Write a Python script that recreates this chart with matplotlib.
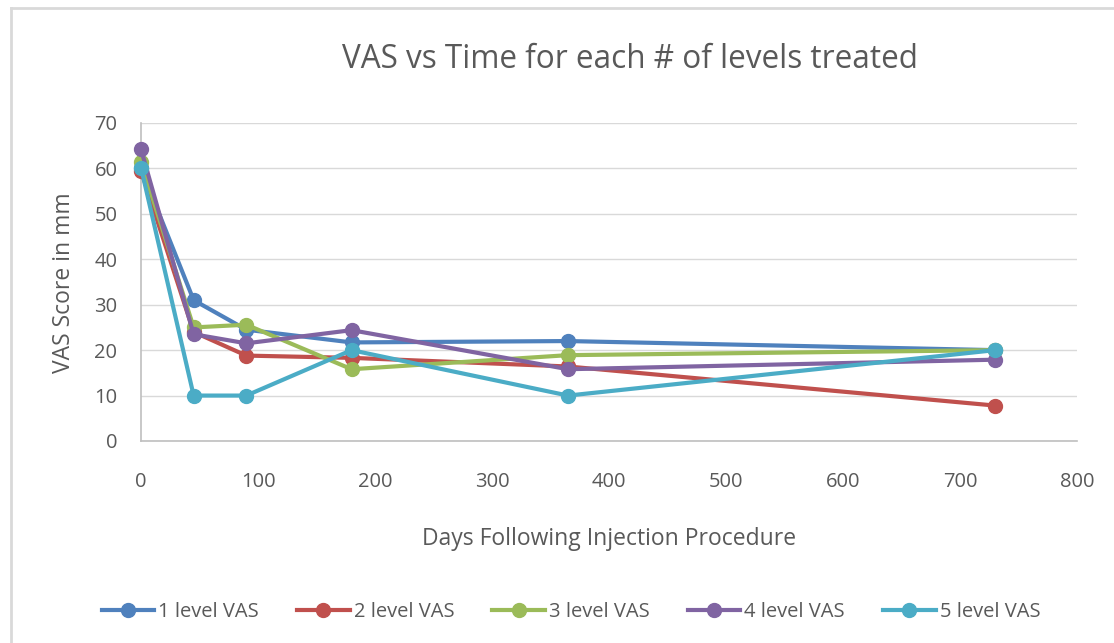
import matplotlib
matplotlib.use("Agg")
import matplotlib.pyplot as plt
from matplotlib.lines import Line2D

# days after injection
days = [0, 45, 90, 180, 365, 730]

# VAS scores per number of levels treated
level1 = [60, 31, 24.5, 21.7, 22, 20]
level2 = [59.5, 24, 18.8, 18.3, 16.4, 7.8]
level3 = [61.5, 25, 25.6, 15.8, 18.9, 20]
level4 = [64.2, 23.5, 21.5, 24.4, 15.8, 17.9]
level5 = [60.2, 10, 10, 20, 10, 20]

series = [level1, level2, level3, level4, level5]
labels = ["1 level VAS", "2 level VAS", "3 level VAS", "4 level VAS", "5 level VAS"]
colors = ["#4F81BD", "#C0504D", "#9BBB59", "#8064A2", "#4BACC6"]

plt.rcParams['font.family'] = ['Open Sans', 'DejaVu Sans']
txt = "#595959"

fig = plt.figure(figsize=(11.14, 6.43), dpi=100)
W, H = 1114, 643
ax = fig.add_axes([141 / W, 1 - 441 / H, (1077 - 141) / W, (441 - 123) / H])

for vals, lab, c in zip(series, labels, colors):
    ax.plot(days, vals, color=c, lw=3, marker='o', ms=10, label=lab, clip_on=False, zorder=3)

ax.set_xlim(0, 800)
ax.set_ylim(0, 70)
ax.set_xticks(range(0, 801, 100))
ax.set_yticks(range(0, 71, 10))
ax.grid(axis='y', color='#d9d9d9', lw=1)
ax.set_axisbelow(True)
for s in ['top', 'right']:
    ax.spines[s].set_visible(False)
for s in ['left', 'bottom']:
    ax.spines[s].set_color('#bfbfbf')
    ax.spines[s].set_linewidth(1.2)
ax.tick_params(length=0, colors=txt, labelsize=14.5)
ax.tick_params(axis='x', pad=22)
ax.tick_params(axis='y', pad=17)

fig.text(630 / W, 1 - 68 / H, "VAS vs Time for each # of levels treated", fontsize=22.7,
         color=txt, ha='center', va='baseline')
fig.text(609 / W, 1 - 545 / H, "Days Following Injection Procedure", fontsize=16.5,
         color=txt, ha='center', va='baseline')
fig.text(70 / W, 1 - 283 / H, "VAS Score in mm", fontsize=16.5, color=txt, rotation=90,
         rotation_mode='anchor', ha='center', va='baseline')

fig.legend(loc='center', bbox_to_anchor=(571 / W, 1 - 612 / H), ncol=5, frameon=False,
           fontsize=14.5, labelcolor=txt, handlelength=2.6, columnspacing=1.9, handletextpad=0.2)

# chart frame (only left and top edges are inside the picture)
fig.add_artist(Line2D([11 / W, 11 / W], [0, 1 - 8 / H], transform=fig.transFigure,
                      color='#d9d9d9', lw=2))
fig.add_artist(Line2D([11 / W, 1], [1 - 8 / H, 1 - 8 / H], transform=fig.transFigure,
                      color='#d9d9d9', lw=2))

fig.savefig("out.png", dpi=100)
